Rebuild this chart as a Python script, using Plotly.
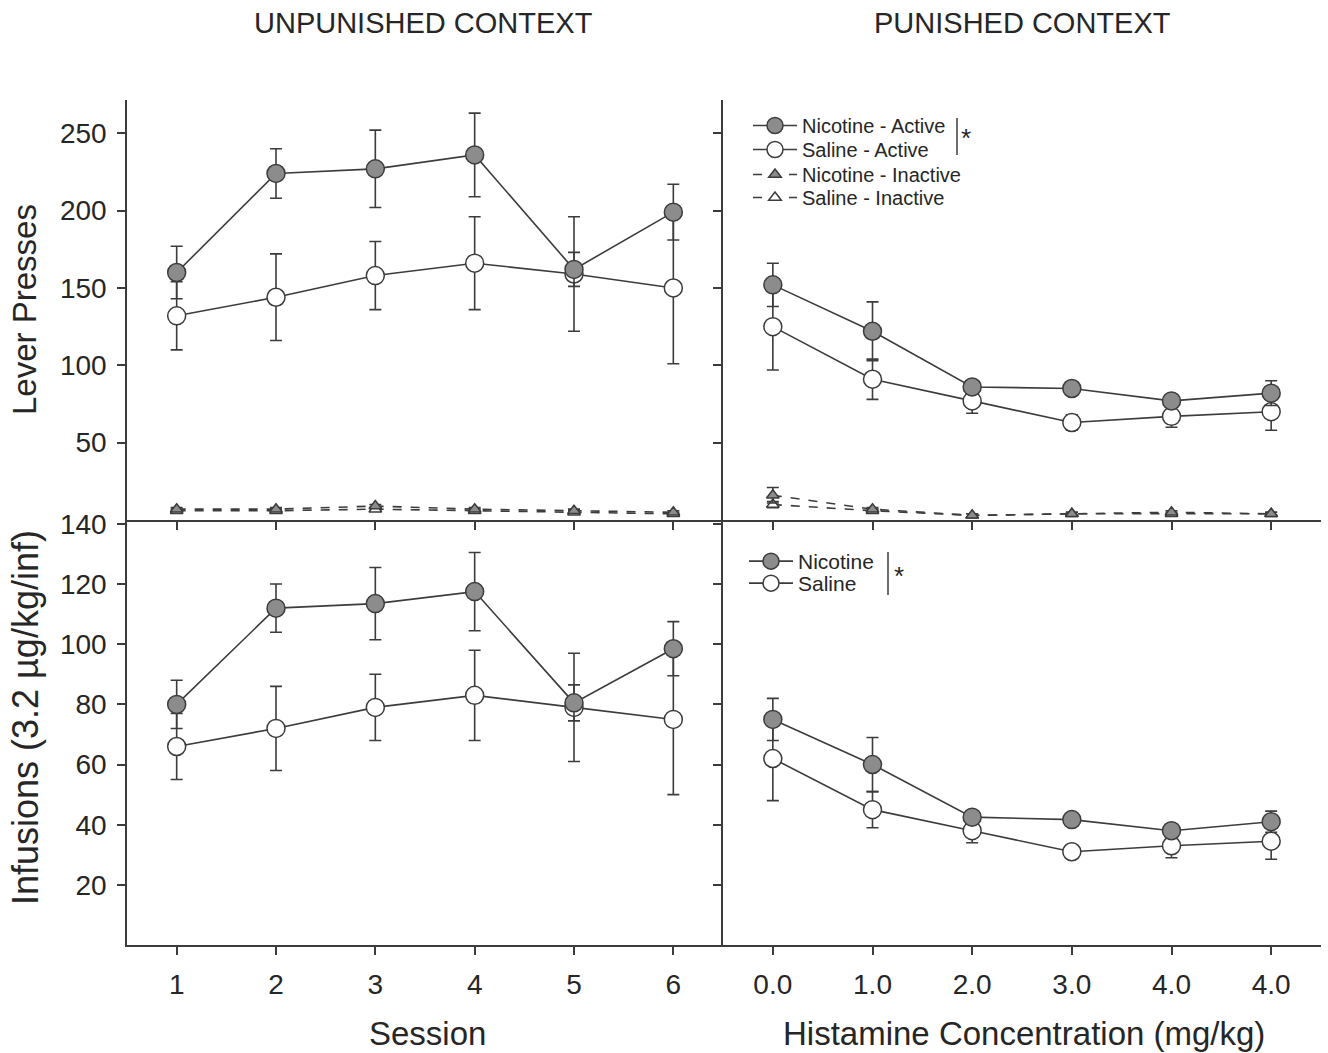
import plotly.graph_objects as go

# ---------------- data ----------------
sessions = [1, 2, 3, 4, 5, 6]
session_labels = ["1", "2", "3", "4", "5", "6"]
hist_labels = ["0.0", "1.0", "2.0", "3.0", "4.0", "4.0"]
hist_pos = list(range(len(hist_labels)))

# Unpunished context - lever presses
nic_active_unp = [160, 224, 227, 236, 162, 199]
nic_active_unp_err = [17, 16, 25, 27, 11, 18]
sal_active_unp = [132, 144, 158, 166, 159, 150]
sal_active_unp_err = [22, 28, 22, 30, 37, 49]
nic_inactive_unp = [7, 7, 9, 7, 6, 5]
nic_inactive_unp_err = [1, 1, 1, 1, 1, 1]
sal_inactive_unp = [6, 6, 7, 6, 5, 4]
sal_inactive_unp_err = [1, 1, 1, 1, 1, 1]

# Punished context - lever presses
nic_active_pun = [152, 122, 86, 85, 77, 82]
nic_active_pun_err = [14, 19, 3, 3, 3, 8]
sal_active_pun = [125, 91, 77, 63, 67, 70]
sal_active_pun_err = [28, 13, 8, 5, 7, 12]
nic_inactive_pun = [16, 7, 3, 4, 5, 4]
nic_inactive_pun_err = [5, 1, 1, 1, 1, 1]
sal_inactive_pun = [10, 6, 3, 4, 4, 4]
sal_inactive_pun_err = [2, 1, 1, 1, 1, 1]

# Infusions
nic_inf_unp = [80, 112, 113.5, 117.5, 80.5, 98.5]
nic_inf_unp_err = [8, 8, 12, 13, 6, 9]
sal_inf_unp = [66, 72, 79, 83, 79, 75]
sal_inf_unp_err = [11, 14, 11, 15, 18, 25]
nic_inf_pun = [75, 60, 42.5, 41.7, 38, 41]
nic_inf_pun_err = [7, 9, 2, 2, 2, 3.5]
sal_inf_pun = [62, 45, 38, 31, 33, 34.5]
sal_inf_pun_err = [14, 6, 4, 2, 4, 6]

lever_ticks = [50, 100, 150, 200, 250]
inf_ticks = [20, 40, 60, 80, 100, 120, 140]

# ---------------- style ----------------
W, H = 1328, 1053
DARK = "#3c3c3c"
GRAY = "#8c8c8c"
FONT = "Liberation Sans, Arial, sans-serif"
TXT = "#262626"


def px_x(p):
    return p / W


def px_y(p):
    return 1 - p / H


fig = go.Figure()


def add(x, y, err, xa, ya, fill, symbol, size, dash, name, legend, showlegend):
    fig.add_trace(go.Scatter(
        x=x, y=y, xaxis=xa, yaxis=ya, mode="lines+markers", name=name,
        legend=legend, showlegend=showlegend,
        line=dict(color=DARK, width=1.6, dash=dash),
        marker=dict(symbol=symbol, size=size, color=fill,
                    line=dict(color=DARK, width=1.5)),
        error_y=dict(type="data", array=err, visible=True, color=DARK,
                     thickness=1.6, width=6),
    ))


# top-left (x3, y3)
add(sessions, sal_inactive_unp, sal_inactive_unp_err, "x3", "y3", "white", "triangle-up", 11, "dash", "Saline - Inactive", "legend", False)
add(sessions, nic_inactive_unp, nic_inactive_unp_err, "x3", "y3", GRAY, "triangle-up", 11, "dash", "Nicotine - Inactive", "legend", False)
add(sessions, sal_active_unp, sal_active_unp_err, "x3", "y3", "white", "circle", 18, "solid", "Saline - Active", "legend", False)
add(sessions, nic_active_unp, nic_active_unp_err, "x3", "y3", GRAY, "circle", 18, "solid", "Nicotine - Active", "legend", False)

# top-right (x4, y4) - each series gets its own legend box so rows can be placed exactly
add(hist_pos, sal_inactive_pun, sal_inactive_pun_err, "x4", "y4", "white", "triangle-up", 11, "dash", "Saline - Inactive", "legend4", True)
add(hist_pos, nic_inactive_pun, nic_inactive_pun_err, "x4", "y4", GRAY, "triangle-up", 11, "dash", "Nicotine - Inactive", "legend3", True)
add(hist_pos, sal_active_pun, sal_active_pun_err, "x4", "y4", "white", "circle", 18, "solid", "Saline - Active", "legend2", True)
add(hist_pos, nic_active_pun, nic_active_pun_err, "x4", "y4", GRAY, "circle", 18, "solid", "Nicotine - Active", "legend", True)

# bottom-left (x, y)
add(sessions, sal_inf_unp, sal_inf_unp_err, "x", "y", "white", "circle", 18, "solid", "Saline", "legend6", False)
add(sessions, nic_inf_unp, nic_inf_unp_err, "x", "y", GRAY, "circle", 18, "solid", "Nicotine", "legend5", False)

# bottom-right (x2, y2)
add(hist_pos, sal_inf_pun, sal_inf_pun_err, "x2", "y2", "white", "circle", 18, "solid", "Saline", "legend6", True)
add(hist_pos, nic_inf_pun, nic_inf_pun_err, "x2", "y2", GRAY, "circle", 18, "solid", "Nicotine", "legend5", True)

xl = [px_x(127), px_x(723)]
xr = [px_x(723), px_x(1321)]
yt = [px_y(520), px_y(100)]
yb = [px_y(945), px_y(520)]

axis_common = dict(showline=True, linecolor=DARK, linewidth=1.5, ticks="outside",
                   ticklen=8, tickwidth=1.5, tickcolor=DARK, showgrid=False,
                   zeroline=False, automargin=False,
                   tickfont=dict(family=FONT, size=28, color=TXT))


def leg(xpx, ycenter, size):
    return dict(x=px_x(xpx), y=px_y(ycenter - 20), xanchor="left", yanchor="top",
                bgcolor="rgba(255,255,255,0)", font=dict(family=FONT, size=size, color=TXT),
                itemwidth=44)


fig.update_layout(
    template="none",
    width=W, height=H, margin=dict(l=0, r=0, t=0, b=0, autoexpand=False),
    plot_bgcolor="white", paper_bgcolor="white",
    font=dict(family=FONT, color=TXT),
    xaxis=dict(domain=xl, anchor="y", range=[0.5, 6.5], tickvals=sessions,
               ticktext=session_labels, ticklabelstandoff=6, **axis_common),
    yaxis=dict(domain=yb, anchor="x", range=[0, 141.3], tickvals=inf_ticks,
               ticklabelstandoff=5, **axis_common),
    xaxis2=dict(domain=xr, anchor="y2", range=[-0.5, 5.5], tickvals=hist_pos,
                ticktext=hist_labels, ticklabelstandoff=6, **axis_common),
    yaxis2=dict(domain=yb, anchor="x2", range=[0, 141.3], tickvals=inf_ticks,
                showticklabels=False, **axis_common),
    xaxis3=dict(domain=xl, anchor="y3", range=[0.5, 6.5], tickvals=sessions,
                showticklabels=False, **axis_common),
    yaxis3=dict(domain=yt, anchor="x3", range=[0, 271.5], tickvals=lever_ticks,
                ticklabelstandoff=5, **axis_common),
    xaxis4=dict(domain=xr, anchor="y4", range=[-0.5, 5.5], tickvals=hist_pos,
                showticklabels=False, **axis_common),
    yaxis4=dict(domain=yt, anchor="x4", range=[0, 271.5], tickvals=lever_ticks,
                showticklabels=False, **axis_common),
    legend=leg(748, 126, 20),
    legend2=leg(748, 150, 20),
    legend3=leg(748, 175, 20),
    legend4=leg(748, 198, 20),
    legend5=leg(744, 561, 21),
    legend6=leg(744, 583, 21),
)

annotations = [
    dict(text="UNPUNISHED CONTEXT", x=px_x(424), y=px_y(23), font=dict(size=29)),
    dict(text="PUNISHED CONTEXT", x=px_x(1022), y=px_y(23), font=dict(size=29)),
    dict(text="Session", x=px_x(427), y=px_y(1033), font=dict(size=33)),
    dict(text="Histamine Concentration (mg/kg)", x=px_x(1024), y=px_y(1033), font=dict(size=33)),
    dict(text="Lever Presses", x=px_x(25), y=px_y(310), textangle=-90, font=dict(size=33)),
    dict(text="Infusions (3.2 µg/kg/inf)", x=px_x(25), y=px_y(718), textangle=-90, font=dict(size=36)),
    dict(text="*", x=px_x(966), y=px_y(138), font=dict(size=26)),
    dict(text="*", x=px_x(899), y=px_y(576), font=dict(size=26)),
]
for a in annotations:
    a.update(xref="paper", yref="paper", showarrow=False, xanchor="center", yanchor="middle")
    a["font"].update(family=FONT, color=TXT)
fig.update_layout(annotations=annotations)

fig.add_shape(type="line", xref="paper", yref="paper", x0=px_x(957), x1=px_x(957),
              y0=px_y(118), y1=px_y(155), line=dict(color=DARK, width=1.5))
fig.add_shape(type="line", xref="paper", yref="paper", x0=px_x(888), x1=px_x(888),
              y0=px_y(552), y1=px_y(595), line=dict(color=DARK, width=1.5))

fig.write_html("out.html")
